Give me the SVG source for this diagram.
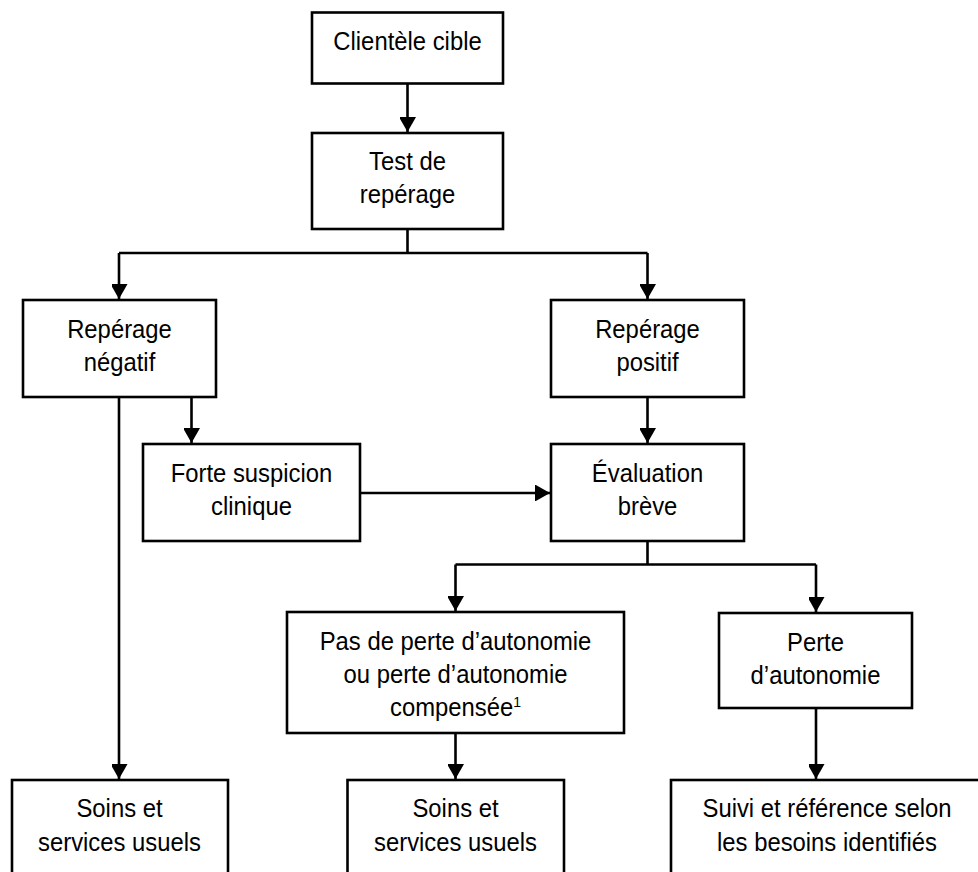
<svg xmlns="http://www.w3.org/2000/svg" width="978" height="872" viewBox="0 0 978 872">
<style>
.box{fill:#fff;stroke:#000;stroke-width:2.6}
.ln{fill:none;stroke:#000;stroke-width:2.6}
.t{font-family:"Liberation Sans",Arial,Helvetica,sans-serif;font-size:25.5px;fill:#000;text-anchor:middle}
.sup{font-size:15px}
</style>
<defs>
<marker id="ah" markerUnits="userSpaceOnUse" markerWidth="18" markerHeight="16" refX="15" refY="8.5" orient="auto">
<path d="M0,0 L15,8.5 L0,17 Z" fill="#000"/>
</marker>
</defs>
<rect width="978" height="872" fill="#fff"/>
<g id="connectors">
<path class="ln" d="M407.5,84 V132" marker-end="url(#ah)"/>
<path class="ln" d="M407.5,229 V253 M119,253 H647.5"/>
<path class="ln" d="M119,253 V299" marker-end="url(#ah)"/>
<path class="ln" d="M647.5,253 V299" marker-end="url(#ah)"/>
<path class="ln" d="M191.5,397 V443" marker-end="url(#ah)"/>
<path class="ln" d="M119,397 V779" marker-end="url(#ah)"/>
<path class="ln" d="M360,493 H550" marker-end="url(#ah)"/>
<path class="ln" d="M647.5,397 V443" marker-end="url(#ah)"/>
<path class="ln" d="M647.5,541 V564.5 M455.5,564.5 H816"/>
<path class="ln" d="M455.5,564.5 V611" marker-end="url(#ah)"/>
<path class="ln" d="M816,564.5 V612" marker-end="url(#ah)"/>
<path class="ln" d="M455.5,733 V779" marker-end="url(#ah)"/>
<path class="ln" d="M816,708 V779" marker-end="url(#ah)"/>
</g>
<g id="n-clientele">
<rect class="box" x="312" y="12.5" width="191" height="71"/>
<text class="t" transform="translate(407.5 0) scale(0.935 1)"><tspan x="0" y="50">Clientèle cible</tspan></text>
</g>
<g id="n-test">
<rect class="box" x="312" y="133" width="191" height="96"/>
<text class="t" transform="translate(407.5 0) scale(0.935 1)"><tspan x="0" y="170.5">Test de</tspan><tspan x="0" y="203">repérage</tspan></text>
</g>
<g id="n-negatif">
<rect class="box" x="23" y="300" width="193" height="97"/>
<text class="t" transform="translate(119.5 0) scale(0.935 1)"><tspan x="0" y="338">Repérage</tspan><tspan x="0" y="371">négatif</tspan></text>
</g>
<g id="n-positif">
<rect class="box" x="551" y="300" width="193" height="97"/>
<text class="t" transform="translate(647.5 0) scale(0.935 1)"><tspan x="0" y="338">Repérage</tspan><tspan x="0" y="371">positif</tspan></text>
</g>
<g id="n-forte">
<rect class="box" x="143" y="444" width="217" height="97"/>
<text class="t" transform="translate(251.5 0) scale(0.935 1)"><tspan x="0" y="482">Forte suspicion</tspan><tspan x="0" y="515">clinique</tspan></text>
</g>
<g id="n-evaluation">
<rect class="box" x="551" y="444" width="193" height="97"/>
<text class="t" transform="translate(647.5 0) scale(0.935 1)"><tspan x="0" y="482">Évaluation</tspan><tspan x="0" y="515">brève</tspan></text>
</g>
<g id="n-pasperte">
<rect class="box" x="287" y="612" width="337" height="121"/>
<text class="t" transform="translate(455.5 0) scale(0.935 1)"><tspan x="0" y="650">Pas de perte d’autonomie</tspan><tspan x="0" y="683">ou perte d’autonomie</tspan><tspan x="0" y="716">compensée<tspan class="sup" dy="-9">1</tspan></tspan></text>
</g>
<g id="n-perte">
<rect class="box" x="719" y="613" width="193" height="95"/>
<text class="t" transform="translate(815.5 0) scale(0.935 1)"><tspan x="0" y="651">Perte</tspan><tspan x="0" y="684.5">d’autonomie</tspan></text>
</g>
<g id="n-soins1">
<rect class="box" x="12" y="780" width="216" height="100"/>
<text class="t" transform="translate(119.5 0) scale(0.935 1)"><tspan x="0" y="817.5">Soins et</tspan><tspan x="0" y="851.5">services usuels</tspan></text>
</g>
<g id="n-soins2">
<rect class="box" x="347.5" y="780" width="216.5" height="100"/>
<text class="t" transform="translate(455.5 0) scale(0.935 1)"><tspan x="0" y="817.5">Soins et</tspan><tspan x="0" y="851.5">services usuels</tspan></text>
</g>
<g id="n-suivi">
<rect class="box" x="671" y="780" width="320" height="100"/>
<text class="t" transform="translate(827 0) scale(0.935 1)"><tspan x="0" y="817.5">Suivi et référence selon</tspan><tspan x="0" y="851.5">les besoins identifiés</tspan></text>
</g>
</svg>
